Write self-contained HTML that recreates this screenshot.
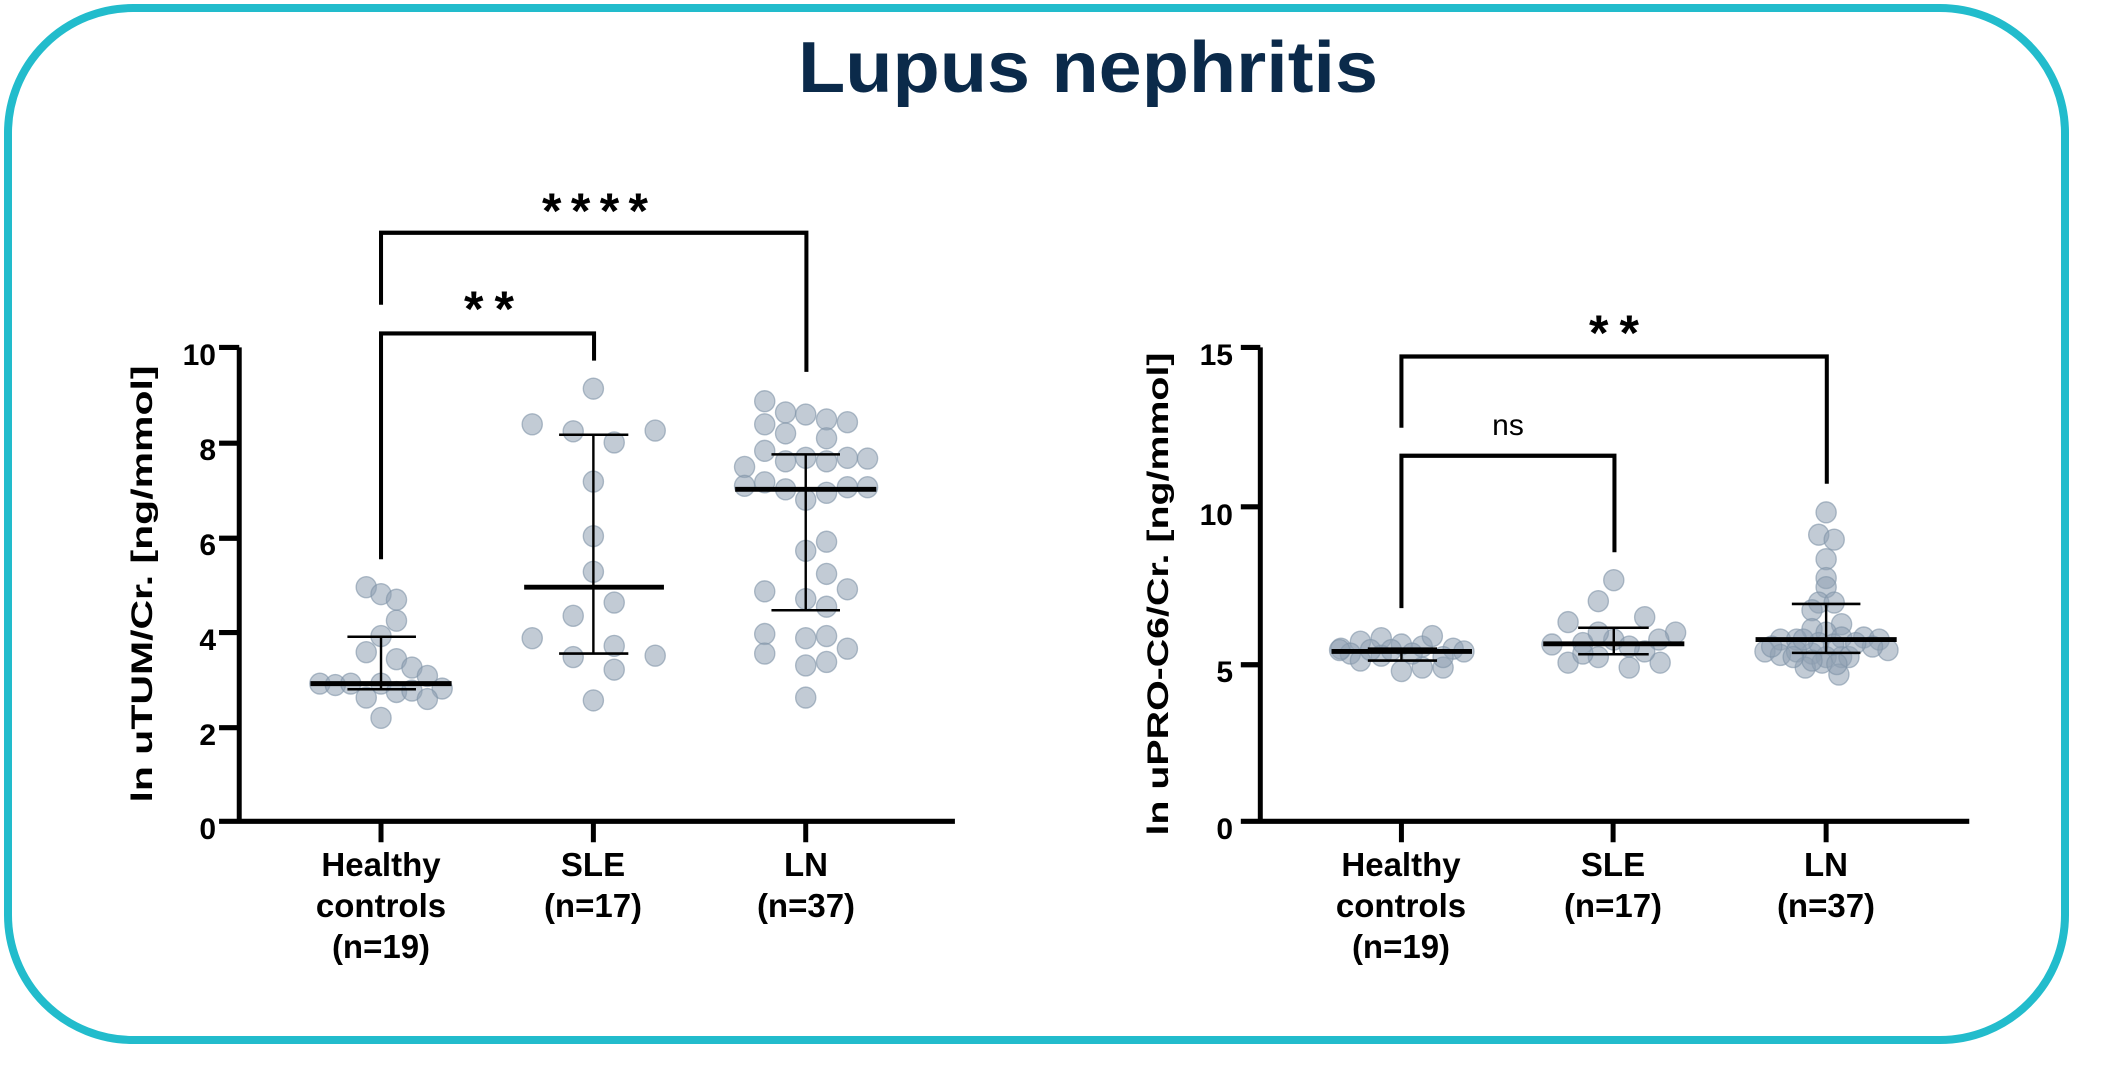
<!DOCTYPE html>
<html><head><meta charset="utf-8"><style>
html,body{margin:0;padding:0;background:#fff;}
svg{display:block;}
text{font-family:"Liberation Sans",sans-serif;}
</style></head><body>
<svg width="2109" height="1092" viewBox="0 0 2109 1092" xmlns="http://www.w3.org/2000/svg">
<rect x="8" y="8" width="2057" height="1032" rx="125" ry="125" fill="none" stroke="#22bccc" stroke-width="8"/>
<text x="1088" y="92" text-anchor="middle" font-size="72" font-weight="bold" fill="#0b2a4a" textLength="580" lengthAdjust="spacingAndGlyphs">Lupus nephritis</text>

<!-- LEFT PLOT -->
<g transform="scale(0.672,0.699)">
 <g fill="#8fa1b3" fill-opacity="0.55" stroke="#7f92a6" stroke-opacity="0.6" stroke-width="2">
  <circle cx="545" cy="840" r="15"/><circle cx="567" cy="850" r="15"/><circle cx="590" cy="858" r="15"/><circle cx="590" cy="888" r="15"/><circle cx="567" cy="910" r="15"/><circle cx="545" cy="933" r="15"/><circle cx="590" cy="943" r="15"/><circle cx="613" cy="955" r="15"/><circle cx="636" cy="967" r="15"/><circle cx="658" cy="985" r="15"/><circle cx="476" cy="978" r="15"/><circle cx="499" cy="980" r="15"/><circle cx="522" cy="978" r="15"/><circle cx="567" cy="978" r="15"/><circle cx="545" cy="998" r="15"/><circle cx="590" cy="990" r="15"/><circle cx="613" cy="988" r="15"/><circle cx="636" cy="1000" r="15"/><circle cx="567" cy="1027" r="15"/>
  <circle cx="883" cy="556" r="15"/><circle cx="792" cy="607" r="15"/><circle cx="853" cy="617" r="15"/><circle cx="975" cy="616" r="15"/><circle cx="914" cy="633" r="15"/><circle cx="883" cy="689" r="15"/><circle cx="883" cy="767" r="15"/><circle cx="883" cy="818" r="15"/><circle cx="914" cy="862" r="15"/><circle cx="853" cy="881" r="15"/><circle cx="792" cy="913" r="15"/><circle cx="914" cy="924" r="15"/><circle cx="853" cy="940" r="15"/><circle cx="975" cy="938" r="15"/><circle cx="914" cy="958" r="15"/><circle cx="883" cy="1002" r="15"/>
  <circle cx="1138" cy="574" r="15"/><circle cx="1169" cy="590" r="15"/><circle cx="1199" cy="593" r="15"/><circle cx="1230" cy="600" r="15"/><circle cx="1261" cy="604" r="15"/><circle cx="1138" cy="607" r="15"/><circle cx="1169" cy="620" r="15"/><circle cx="1230" cy="627" r="15"/><circle cx="1138" cy="645" r="15"/><circle cx="1199" cy="655" r="15"/><circle cx="1169" cy="660" r="15"/><circle cx="1230" cy="660" r="15"/><circle cx="1261" cy="655" r="15"/><circle cx="1291" cy="656" r="15"/><circle cx="1108" cy="668" r="15"/><circle cx="1108" cy="695" r="15"/><circle cx="1138" cy="690" r="15"/><circle cx="1169" cy="700" r="15"/><circle cx="1199" cy="715" r="15"/><circle cx="1230" cy="705" r="15"/><circle cx="1261" cy="697" r="15"/><circle cx="1291" cy="697" r="15"/><circle cx="1230" cy="775" r="15"/><circle cx="1199" cy="788" r="15"/><circle cx="1230" cy="821" r="15"/><circle cx="1138" cy="846" r="15"/><circle cx="1261" cy="843" r="15"/><circle cx="1199" cy="857" r="15"/><circle cx="1230" cy="868" r="15"/><circle cx="1138" cy="907" r="15"/><circle cx="1199" cy="913" r="15"/><circle cx="1230" cy="910" r="15"/><circle cx="1138" cy="935" r="15"/><circle cx="1261" cy="928" r="15"/><circle cx="1199" cy="952" r="15"/><circle cx="1230" cy="947" r="15"/><circle cx="1199" cy="998" r="15"/>
 </g>
 <g stroke="#000" fill="none">
  <path d="M356 497 V1175 H1421 M326 497 H356 M326 634 H356 M326 770 H356 M326 905 H356 M326 1041 H356 M326 1175 H356 M567 1175 V1205 M883 1175 V1205 M1199 1175 V1205" stroke-width="7.4"/>
  <path d="M567 436 V333 H1200 V532 M567 800 V477 H884 V516" stroke-width="6"/>
  <path d="M462 978 H672 M780 840 H988 M1094 700 H1304" stroke-width="7"/>
  <path d="M517 911 H619 M567 911 V986 M517 986 H619 M832 622 H935 M883 622 V935 M832 935 H935 M1148 650 H1250 M1199 650 V873 M1148 873 H1250" stroke-width="3.6"/>
 </g>
</g>
<text x="595" y="228" text-anchor="middle" font-size="50" font-weight="bold" textLength="106" lengthAdjust="spacing">****</text>
<text x="489" y="326" text-anchor="middle" font-size="50" font-weight="bold" textLength="50" lengthAdjust="spacing">**</text>
<g font-size="30" font-weight="bold" text-anchor="end">
 <text x="216" y="365">10</text><text x="216" y="460">8</text><text x="216" y="555">6</text><text x="216" y="650">4</text><text x="216" y="745">2</text><text x="216" y="839">0</text>
</g>
<text transform="translate(152,584) rotate(-90)" text-anchor="middle" font-size="30" font-weight="bold" textLength="437" lengthAdjust="spacingAndGlyphs">ln uTUM/Cr. [ng/mmol]</text>
<g font-size="33" font-weight="bold" text-anchor="middle">
 <text x="381" y="876">Healthy</text><text x="381" y="917">controls</text><text x="381" y="958">(n=19)</text>
 <text x="593" y="876">SLE</text><text x="593" y="917">(n=17)</text>
 <text x="806" y="876">LN</text><text x="806" y="917">(n=37)</text>
</g>

<!-- RIGHT PLOT -->
<g transform="translate(1054,0) scale(0.672,0.699)">
 <g fill="#8fa1b3" fill-opacity="0.55" stroke="#7f92a6" stroke-opacity="0.6" stroke-width="2">
  <circle cx="427" cy="928" r="15"/><circle cx="456" cy="918" r="15"/><circle cx="487" cy="913" r="15"/><circle cx="517" cy="922" r="15"/><circle cx="548" cy="925" r="15"/><circle cx="563" cy="910" r="15"/><circle cx="594" cy="928" r="15"/><circle cx="610" cy="932" r="15"/><circle cx="441" cy="935" r="15"/><circle cx="456" cy="945" r="15"/><circle cx="487" cy="938" r="15"/><circle cx="517" cy="960" r="15"/><circle cx="548" cy="955" r="15"/><circle cx="579" cy="955" r="15"/><circle cx="502" cy="930" r="15"/><circle cx="533" cy="935" r="15"/><circle cx="579" cy="940" r="15"/><circle cx="471" cy="930" r="15"/><circle cx="425" cy="930" r="15"/>
  <circle cx="833" cy="830" r="15"/><circle cx="810" cy="860" r="15"/><circle cx="765" cy="890" r="15"/><circle cx="879" cy="883" r="15"/><circle cx="925" cy="905" r="15"/><circle cx="741" cy="922" r="15"/><circle cx="787" cy="920" r="15"/><circle cx="833" cy="915" r="15"/><circle cx="900" cy="915" r="15"/><circle cx="765" cy="948" r="15"/><circle cx="810" cy="940" r="15"/><circle cx="856" cy="955" r="15"/><circle cx="902" cy="948" r="15"/><circle cx="879" cy="932" r="15"/><circle cx="810" cy="905" r="15"/><circle cx="856" cy="925" r="15"/><circle cx="787" cy="935" r="15"/>
  <circle cx="1149" cy="733" r="15"/><circle cx="1138" cy="765" r="15"/><circle cx="1161" cy="772" r="15"/><circle cx="1149" cy="800" r="15"/><circle cx="1149" cy="827" r="15"/><circle cx="1149" cy="840" r="15"/><circle cx="1138" cy="862" r="15"/><circle cx="1161" cy="862" r="15"/><circle cx="1128" cy="873" r="15"/><circle cx="1172" cy="893" r="15"/><circle cx="1128" cy="900" r="15"/><circle cx="1149" cy="905" r="15"/><circle cx="1172" cy="912" r="15"/><circle cx="1205" cy="912" r="15"/><circle cx="1228" cy="915" r="15"/><circle cx="1081" cy="915" r="15"/><circle cx="1105" cy="915" r="15"/><circle cx="1058" cy="932" r="15"/><circle cx="1081" cy="937" r="15"/><circle cx="1241" cy="930" r="15"/><circle cx="1218" cy="925" r="15"/><circle cx="1128" cy="935" r="15"/><circle cx="1149" cy="940" r="15"/><circle cx="1172" cy="940" r="15"/><circle cx="1105" cy="932" r="15"/><circle cx="1068" cy="925" r="15"/><circle cx="1118" cy="955" r="15"/><circle cx="1143" cy="948" r="15"/><circle cx="1168" cy="965" r="15"/><circle cx="1183" cy="940" r="15"/><circle cx="1193" cy="920" r="15"/><circle cx="1138" cy="920" r="15"/><circle cx="1160" cy="922" r="15"/><circle cx="1115" cy="915" r="15"/><circle cx="1128" cy="945" r="15"/><circle cx="1165" cy="950" r="15"/><circle cx="1100" cy="940" r="15"/>
 </g>
 <g stroke="#000" fill="none">
  <path d="M307 497 V1175 H1362 M278 497 H307 M278 725 H307 M278 951 H307 M278 1175 H307 M517 1175 V1205 M832 1175 V1205 M1149 1175 V1205" stroke-width="7.4"/>
  <path d="M517 612 V510 H1150 V692 M517 870 V652 H834 V790" stroke-width="6"/>
  <path d="M413 932 H622 M728 921 H938 M1044 915 H1254" stroke-width="7"/>
  <path d="M467 928 H570 M517 928 V945 M467 945 H570 M780 898 H885 M833 898 V936 M780 936 H885 M1098 864 H1200 M1149 864 V934 M1098 934 H1200" stroke-width="3.6"/>
 </g>
</g>
<text x="1614" y="350" text-anchor="middle" font-size="50" font-weight="bold" textLength="50" lengthAdjust="spacing">**</text>
<text x="1508" y="435" text-anchor="middle" font-size="30">ns</text>
<g font-size="30" font-weight="bold" text-anchor="end">
 <text x="1233" y="365">15</text><text x="1233" y="525">10</text><text x="1233" y="682">5</text><text x="1233" y="839">0</text>
</g>
<text transform="translate(1168,594) rotate(-90)" text-anchor="middle" font-size="30" font-weight="bold" textLength="483" lengthAdjust="spacingAndGlyphs">ln uPRO-C6/Cr. [ng/mmol]</text>
<g font-size="33" font-weight="bold" text-anchor="middle">
 <text x="1401" y="876">Healthy</text><text x="1401" y="917">controls</text><text x="1401" y="958">(n=19)</text>
 <text x="1613" y="876">SLE</text><text x="1613" y="917">(n=17)</text>
 <text x="1826" y="876">LN</text><text x="1826" y="917">(n=37)</text>
</g>
</svg>
</body></html>
